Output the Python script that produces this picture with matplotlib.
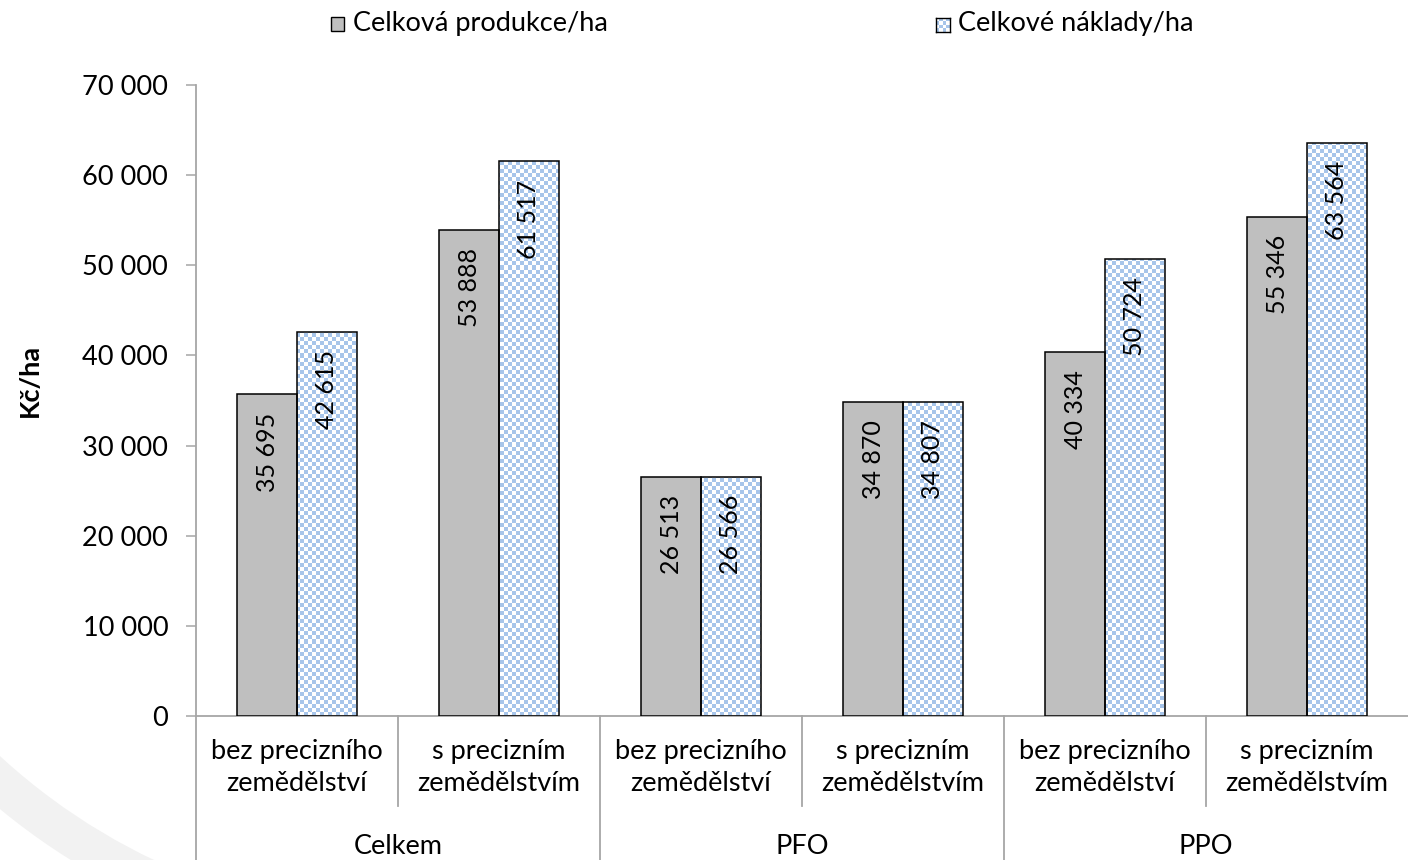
import numpy as np
import matplotlib
matplotlib.use("Agg")
import matplotlib.pyplot as plt
import matplotlib.patches as mpatches
import matplotlib.transforms as mtransforms
from matplotlib.colors import ListedColormap

plt.rcParams.update({
    "font.family": ["Lato", "DejaVu Sans"],
    "font.size": 19.5,
})

# ----------------------------
# DATA
# ----------------------------
groups = ["Celkem", "PFO", "PPO"]
categories = ["bez precizního\nzemědělství", "s precizním\nzemědělstvím"] * 3
series_names = ["Celková produkce/ha", "Celkové náklady/ha"]
produkce = [35695, 53888, 26513, 34870, 40334, 55346]
naklady = [42615, 61517, 26566, 34807, 50724, 63564]
y_ticks = [0, 10000, 20000, 30000, 40000, 50000, 60000, 70000]

GRAY = "#bfbfbf"
BLUE = "#a7c5ea"
AXIS = "#a6a6a6"
CHECK = ListedColormap(["white", BLUE])


def fmt(v):
    return f"{v:,}".replace(",", " ")


def checker(ny, nx):
    return np.indices((ny, nx)).sum(axis=0) % 2


fig = plt.figure(figsize=(14.08, 8.6), dpi=100)
W, H = 1408, 860

# faint watermark arc in the bottom-left corner
arc = mpatches.Wedge((420, 560), 660, 180, 270, width=40,
                     transform=mtransforms.IdentityTransform(),
                     facecolor="#f2f2f2", edgecolor="none", zorder=-5)
fig.add_artist(arc)

ax = fig.add_axes([196 / W, 144 / H, 1212 / W, 631 / H])
ax.set_facecolor("none")

x = np.arange(len(categories))
bw = 0.297

ax.bar(x - bw / 2, produkce, width=bw, color=GRAY,
       edgecolor="black", linewidth=1.1, zorder=3)
blue_bars = ax.bar(x + bw / 2, naklady, width=bw, color="none",
                   edgecolor="black", linewidth=1.1, zorder=4)

# checkerboard fill (approx 4 px cells) clipped to each blue bar
board = checker(631 // 4, 1212 // 4)
for rect in blue_bars:
    im = ax.imshow(board, cmap=CHECK, extent=(-0.5, 5.5, 0, 70000),
                   origin="lower", aspect="auto", interpolation="nearest",
                   zorder=2)
    im.set_clip_path(rect)

ax.set_xlim(-0.5, 5.5)
ax.set_ylim(0, 70000)

# value labels, rotated, inside the top of each bar
for xi, v in zip(x - bw / 2, produkce):
    ax.annotate(fmt(v), (xi, v), xytext=(0, -13), textcoords="offset points",
                rotation=90, ha="center", va="top", fontsize=18, zorder=6)
for xi, v in zip(x + bw / 2, naklady):
    ax.annotate(fmt(v), (xi, v), xytext=(0, -13), textcoords="offset points",
                rotation=90, ha="center", va="top", fontsize=18, zorder=6)

# axes styling
ax.set_yticks(y_ticks)
ax.set_yticklabels([fmt(t) for t in y_ticks])
ax.tick_params(axis="y", length=7, width=1.1, color=AXIS, pad=13)
ax.set_xticks([])
for s in ["top", "right"]:
    ax.spines[s].set_visible(False)
for s in ["left", "bottom"]:
    ax.spines[s].set_color(AXIS)
    ax.spines[s].set_linewidth(1.3)

# multi-level category axis
trans = mtransforms.blended_transform_factory(ax.transData, ax.transAxes)
for i, lab in enumerate(categories):
    ax.text(i, -0.081, lab, transform=trans, ha="center", va="center",
            linespacing=1.35)
for i, g in enumerate(groups):
    ax.text(2 * i + 0.5, -0.2065, g, transform=trans, ha="center", va="center")
for xs in [0.5, 2.5, 4.5]:
    ax.plot([xs, xs], [0, -0.1426], transform=trans, clip_on=False,
            color=AXIS, linewidth=1.3)
for xs in [-0.5, 1.5, 3.5]:
    ax.plot([xs, xs], [0, -0.25], transform=trans, clip_on=False,
            color=AXIS, linewidth=1.3)

fig.text(30 / W, 1 - 380 / H, "Kč/ha", rotation=90, fontweight="bold",
         ha="center", va="center")

# legend drawn by hand
fig.add_artist(mpatches.Rectangle((331 / W, 1 - 31 / H), 13 / W, 14 / H,
                                  transform=fig.transFigure, facecolor=GRAY,
                                  edgecolor="black", linewidth=1.0))
fig.text(353 / W, 1 - 24 / H, series_names[0], ha="left", va="center")

lax = fig.add_axes([936 / W, 1 - 32 / H, 14 / W, 14 / H])
lax.imshow(checker(4, 4), cmap=CHECK, aspect="auto",
           interpolation="nearest")
lax.set_xticks([])
lax.set_yticks([])
for s in lax.spines.values():
    s.set_color("black")
    s.set_linewidth(1.0)
fig.text(958 / W, 1 - 24 / H, series_names[1], ha="left", va="center")

fig.savefig("out.png", dpi=100, facecolor="white")
